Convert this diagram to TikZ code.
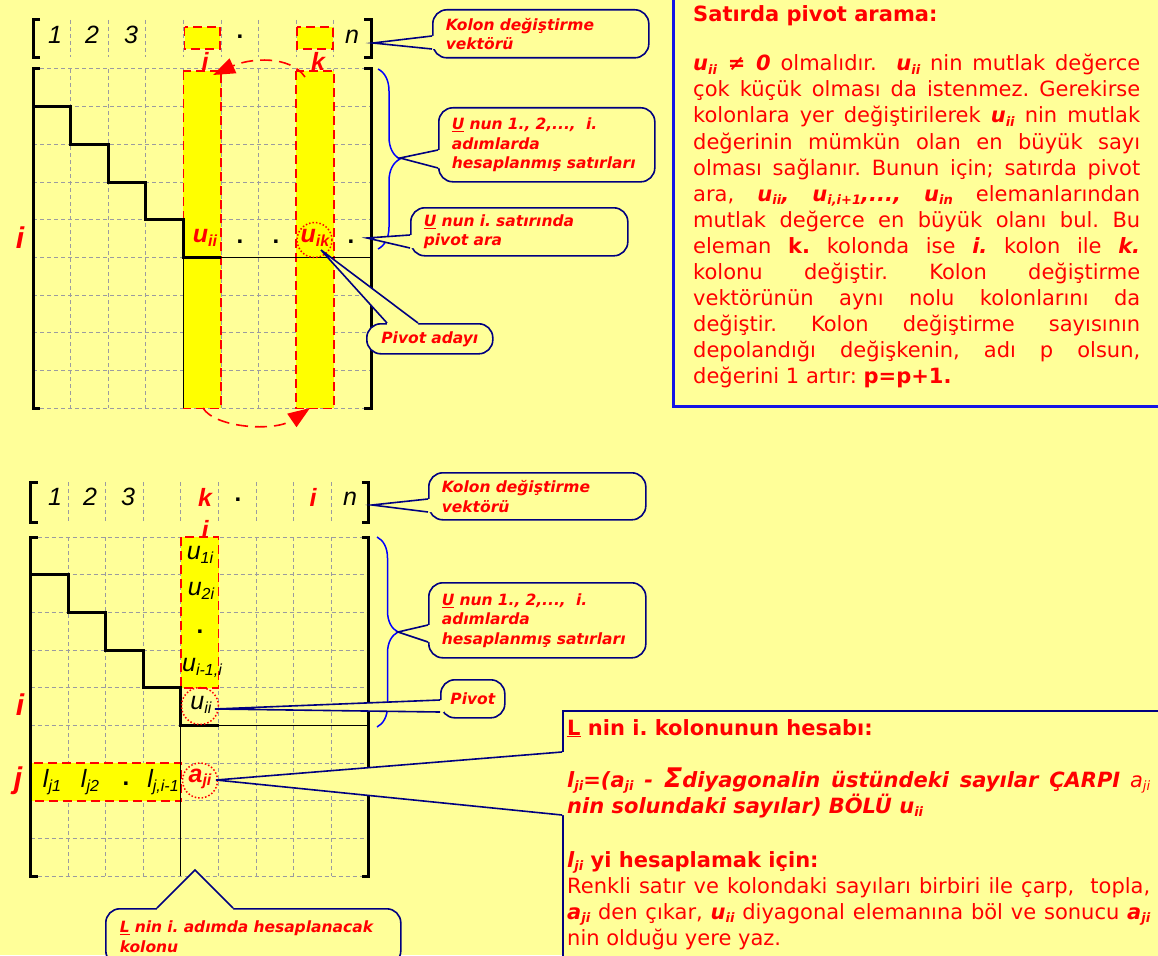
\documentclass[tikz,border=0pt]{standalone}
\usepackage{fontspec}
\setmainfont{DejaVu Sans}
\newfontfamily\lab{Liberation Sans}
\usetikzlibrary{calc,decorations.pathreplacing,arrows.meta}
\definecolor{bgc}{RGB}{255,255,153}
\definecolor{hl}{RGB}{255,255,0}
\definecolor{rd}{RGB}{255,0,0}
\definecolor{nv}{RGB}{0,0,128}
\definecolor{gr}{RGB}{155,155,160}
\definecolor{bl}{RGB}{0,0,255}
\definecolor{tbl}{RGB}{20,20,230}
\frenchspacing
\newcommand\bi[1]{\textbf{\textit{#1}}}
\newcommand\ts[1]{\raisebox{-0.15em}{\fontsize{13}{13}\selectfont #1}}
\newcommand\lsb[1]{\raisebox{-0.14em}{\fontsize{16}{16}\selectfont #1}}
\newcommand\wedgeptr[4]{%
  \fill[bgc] ($(#1)+(#4)$) -- (#1) -- (#2) -- (#3) -- ($(#3)+(#4)$) -- cycle;
  \draw[ptr] (#1) -- (#2) -- (#3);}
\tikzset{
  gridl/.style={gr, dash pattern=on 4pt off 3pt, line width=1pt},
  reddash/.style={rd, dash pattern=on 9pt off 5pt, line width=1.6pt},
  stair/.style={black, line width=3pt, line join=miter},
  brk/.style={black, line width=3pt, line join=miter},
  callout/.style={draw=nv, line width=1.6pt, fill=bgc, rounded corners=14pt, text=rd,
    font=\fontsize{15.5}{19.5}\selectfont\bfseries\itshape, align=left, anchor=north west,
    inner xsep=13pt, inner ysep=0pt},
  ptr/.style={nv, line width=1.6pt, line join=miter},
  nlab/.style={inner sep=0pt, font=\lab\itshape\fontsize{25}{25}\selectfont},
  rlab/.style={inner sep=0pt, text=rd, font=\lab\bfseries\itshape\fontsize{25}{25}\selectfont},
  rbig/.style={inner sep=0pt, text=rd, font=\lab\bfseries\itshape\fontsize{30}{30}\selectfont},
  dotlab/.style={inner sep=0pt, anchor=base, font=\lab\bfseries\fontsize{24}{24}\selectfont},
  dotc/.style={circle, draw=rd, dotted, line width=1.5pt, minimum size=35pt, inner sep=0pt},
  arc/.style={rd, line width=1.6pt, dash pattern=on 12pt off 7pt, -{Triangle[length=22pt,width=16pt]}},
  brace/.style={bl, line width=1.5pt, decorate},
  ptxt/.style={anchor=base west, inner sep=0pt, text=rd, font=\fontsize{21}{26}\selectfont},
}
\begin{document}
\begin{tikzpicture}[x=1pt,y=-1pt]
\useasboundingbox (0,0) rectangle (1158,955);
\fill[bgc] (0,0) rectangle (1158,955);

%%%%%%%%%%%%%%%% TOP SECTION
\foreach \i in {1,...,8}{
  \draw[gridl] ({33+37.6*\i},20) -- ({33+37.6*\i},57);
  \draw[gridl] ({33+37.6*\i},69) -- ({33+37.6*\i},408.3);}
\foreach \j in {0,...,9}{\draw[gridl] (33,{69+37.7*\j}) -- (371.4,{69+37.7*\j});}

\fill[hl] (184.5,27) rectangle (220,49);
\fill[hl] (297,27) rectangle (332.8,49);
\fill[hl] (183.4,71) rectangle (221,408.3);
\fill[hl] (296.2,71) rectangle (333.8,408.3);
\draw[reddash] (184.5,27) rectangle (220,49);
\draw[reddash] (297,27) rectangle (332.8,49);
\draw[reddash] (183.4,71) rectangle (221,408.3);
\draw[reddash] (296.2,71) rectangle (333.8,408.3);

\draw[line width=1pt] (221,257.5) -- (371.4,257.5);
\draw[line width=1pt] (183.4,257.5) -- (183.4,408.3);
\draw[stair] (33,106.7) -| (70.6,144.4) -| (108.2,182.1) -| (145.8,219.8) -| (183.4,257.5) -- (221,257.5);

\draw[brk] (40,20) -- (33,20) -- (33,58) -- (40,58);
\draw[brk] (364.4,20) -- (371.4,20) -- (371.4,58) -- (364.4,58);
\draw[brk] (40,69) -- (33,69) -- (33,408.3) -- (40,408.3);
\draw[brk] (364.4,69) -- (371.4,69) -- (371.4,408.3) -- (364.4,408.3);

\node[nlab] (t1n) at (55,35) {1};
\node[nlab] (t2n) at (92,35) {2};
\node[nlab] (t3n) at (131,35) {3};
\node[dotlab] (tdn) at (240,39) {.};
\node[nlab] (tnn) at (352,37) {n};
\node[rlab] (tin) at (205,61) {i};
\node[rlab] (tkn) at (318,61) {k};
\node[rbig] (tri) at (20,238) {i};
\node[rlab] (tuii) at (205,238) {u\lsb{ii}};
\node[dotlab] (td1) at (240,243) {.};
\node[dotlab] (td2) at (276,243) {.};
\node[dotlab] (td3) at (351,243) {.};
\node[dotc] (tcik) at (314.5,240) {};
\node[rlab] (tuik) at (315,238) {u\lsb{ik}};

\draw[arc] (305,77) .. controls (290,55) and (250,58) .. (213,75);
\draw[arc] (203,408) .. controls (215,428) and (275,432) .. (310,408);

\draw[brace, decoration={brace, amplitude=22pt}] (378,69) -- (378,249);

\node[callout, minimum width=216pt, minimum height=48pt, text width=190pt] (c1) at (432,9) {Kolon değiştirme\\vektörü};
\coordinate (t1) at (373,43);
\coordinate (c1a) at ($(c1.north west)+(0,27)$);
\coordinate (c1b) at ($(c1.north west)+(0,40)$);
\wedgeptr{c1a}{t1}{c1b}{4,0}

\node[callout, minimum width=216pt, minimum height=74pt, text width=190pt] (c2) at (438,107) {\underline{U} nun 1., 2,...,\ \ i.\\adımlarda\\hesaplanmış satırları};
\coordinate (t2) at (400,158);
\coordinate (c2a) at ($(c2.north west)+(0,43)$);
\coordinate (c2b) at ($(c2.north west)+(0,61)$);
\wedgeptr{c2a}{t2}{c2b}{4,0}

\node[callout, minimum width=217pt, minimum height=48pt, text width=191pt] (c3) at (410,207) {\underline{U} nun i. satırında\\pivot ara};
\coordinate (t3) at (367,238);
\coordinate (c3a) at ($(c3.north west)+(0,28)$);
\coordinate (c3b) at ($(c3.north west)+(0,41)$);
\wedgeptr{c3a}{t3}{c3b}{4,0}

\node[callout, align=center, inner xsep=0pt, minimum width=126pt, minimum height=30pt, text width=126pt] (c4) at (366,323) {Pivot adayı};
\coordinate (t4) at (321,250);
\coordinate (c4a) at ($(c4.north west)+(21,0)$);
\coordinate (c4b) at ($(c4.north west)+(52,0)$);
\wedgeptr{c4a}{t4}{c4b}{0,4}

%% right text box
\node[draw=tbl, line width=2.5pt, fill=bgc, minimum width=500pt, minimum height=415pt, anchor=north west, inner sep=0pt] (tb) at (672,-10) {};
\node[ptxt, font=\fontsize{21}{26}\selectfont\bfseries] (p0) at (693,22) {Satırda pivot arama:};
\node[ptxt] (p1) at (693,71) {\makebox[447pt][s]{\bi{u\ts{ii} ≠ 0} olmalıdır.\ \ \bi{u\ts{ii}} nin mutlak değerce}};
\node[ptxt] (p2) at (693,97) {\makebox[447pt][s]{çok küçük olması da istenmez. Gerekirse}};
\node[ptxt] (p3) at (693,123) {\makebox[447pt][s]{kolonlara yer değiştirilerek \bi{u\ts{ii}} nin mutlak}};
\node[ptxt] (p4) at (693,149) {\makebox[447pt][s]{değerinin mümkün olan en büyük sayı}};
\node[ptxt] (p5) at (693,175) {\makebox[447pt][s]{olması sağlanır. Bunun için; satırda pivot}};
\node[ptxt] (p6) at (693,201) {\makebox[447pt][s]{ara, \bi{u\ts{ii},} \bi{u\ts{i,i+1},...,} \bi{u\ts{in}} elemanlarından}};
\node[ptxt] (p7) at (693,227) {\makebox[447pt][s]{mutlak değerce en büyük olanı bul. Bu}};
\node[ptxt] (p8) at (693,253) {\makebox[447pt][s]{eleman \textbf{k.} kolonda ise \bi{i.} kolon ile \bi{k.}}};
\node[ptxt] (p9) at (693,279) {\makebox[447pt][s]{kolonu değiştir. Kolon değiştirme}};
\node[ptxt] (p10) at (693,305) {\makebox[447pt][s]{vektörünün aynı nolu kolonlarını da}};
\node[ptxt] (p11) at (693,331) {\makebox[447pt][s]{değiştir. Kolon değiştirme sayısının}};
\node[ptxt] (p12) at (693,357) {\makebox[447pt][s]{depolandığı değişkenin, adı p olsun,}};
\node[ptxt] (p13) at (693,383) {değerini 1 artır: \textbf{p=p+1.}};

%%%%%%%%%%%%%%%% BOTTOM SECTION
\foreach \i in {1,...,8}{
  \draw[gridl] ({30.5+37.6*\i},482) -- ({30.5+37.6*\i},522);
  \draw[gridl] ({30.5+37.6*\i},537) -- ({30.5+37.6*\i},876.3);}
\foreach \j in {0,...,9}{\draw[gridl] (30.5,{537+37.7*\j}) -- (368.9,{537+37.7*\j});}

\fill[hl] (180.9,537) rectangle (218.5,687.8);
\fill[hl] (30.5,763.2) rectangle (180.9,800.9);
\draw[reddash] (180.9,537) rectangle (218.5,687.8);
\draw[reddash] (30.5,763.2) rectangle (180.9,800.9);

\draw[line width=1pt] (218.5,725.5) -- (368.9,725.5);
\draw[line width=1pt] (180.9,725.5) -- (180.9,876.3);
\draw[stair] (30.5,574.7) -| (68.1,612.4) -| (105.7,650.1) -| (143.3,687.8) -| (180.9,725.5) -- (218.5,725.5);

\draw[brk] (37.5,482) -- (30.5,482) -- (30.5,522) -- (37.5,522);
\draw[brk] (361.9,482) -- (368.9,482) -- (368.9,522) -- (361.9,522);
\draw[brk] (37.5,537) -- (30.5,537) -- (30.5,876.3) -- (37.5,876.3);
\draw[brk] (361.9,537) -- (368.9,537) -- (368.9,876.3) -- (361.9,876.3);

\node[nlab] (b1n) at (55,497) {1};
\node[nlab] (b2n) at (90,497) {2};
\node[nlab] (b3n) at (128,497) {3};
\node[rlab] (bkn) at (205,497) {k};
\node[dotlab] (bdn) at (238,501) {.};
\node[rlab] (bin) at (313,497) {i};
\node[nlab] (bnn) at (350,499) {n};
\node[rlab] (bi2) at (205,529) {i};
\node[nlab] (bu1) at (200,555) {u\lsb{1i}};
\node[nlab] (bu2) at (201,591) {u\lsb{2i}};
\node[dotlab] (bud) at (200,633) {.};
\node[nlab] (bu3) at (202,668) {u\lsb{i-1,i}};
\node[dotc, minimum size=37pt] (bcii) at (200,706) {};
\node[nlab] (buii) at (201,705) {u\lsb{ii}};
\node[nlab] (bl1) at (52,782) {l\lsb{j1}};
\node[nlab] (bl2) at (90,782) {l\lsb{j2}};
\node[dotlab] (bld) at (126,785) {.};
\node[nlab] (bl3) at (163,782) {l\lsb{j,i-1}};
\node[dotc] (bcaji) at (200,780.5) {};
\node[rlab] (baji) at (200,779) {a\lsb{ji}};
\node[rbig] (bri) at (20,705) {i};
\node[rbig] (brj) at (18,781) {j};

\draw[brace, decoration={brace, amplitude=21pt}] (377,537) -- (377,727);

\node[callout, minimum width=217pt, minimum height=47pt, text width=191pt] (d1) at (428,472) {Kolon değiştirme\\vektörü};
\coordinate (s1) at (372,505);
\coordinate (d1a) at ($(d1.north west)+(0,27)$);
\coordinate (d1b) at ($(d1.north west)+(0,40)$);
\wedgeptr{d1a}{s1}{d1b}{4,0}

\node[callout, minimum width=217pt, minimum height=75pt, text width=191pt] (d2) at (428,582) {\underline{U} nun 1., 2,...,\ \ i.\\adımlarda\\hesaplanmış satırları};
\coordinate (s2) at (398,632);
\coordinate (d2a) at ($(d2.north west)+(0,43)$);
\coordinate (d2b) at ($(d2.north west)+(0,60)$);
\wedgeptr{d2a}{s2}{d2b}{4,0}

\node[callout, align=center, inner xsep=0pt, minimum width=64pt, minimum height=38pt, text width=64pt] (d3) at (440,679) {Pivot};
\coordinate (s3) at (215,709);
\coordinate (d3a) at ($(d3.north west)+(0,21)$);
\coordinate (d3b) at ($(d3.north west)+(0,33)$);
\wedgeptr{d3a}{s3}{d3b}{4,0}

\node[callout, inner xsep=14pt, minimum width=295pt, minimum height=56pt, text width=267pt] (d4) at (105,908) {\mbox{\underline{L} nin i. adımda hesaplanacak}\\kolonu};
\coordinate (s4) at (195,870);
\coordinate (d4a) at ($(d4.north west)+(52,0)$);
\coordinate (d4b) at ($(d4.north west)+(128,0)$);
\wedgeptr{d4a}{s4}{d4b}{0,4}

\node[draw=nv, line width=2pt, fill=bgc, minimum width=620pt, minimum height=270pt, anchor=north west, inner sep=0pt] (d5) at (562,710) {};
\coordinate (s5) at (216,780);
\coordinate (d5a) at ($(d5.north west)+(0,42)$);
\coordinate (d5b) at ($(d5.north west)+(0,105)$);
\wedgeptr{d5a}{s5}{d5b}{4,0}

\node[ptxt, font=\fontsize{21}{26}\selectfont\bfseries] (q1) at (567,735) {\underline{L} nin i. kolonunun hesabı:};
\node[ptxt] (q2) at (567,787) {\makebox[583pt][s]{\bi{l\ts{ji}=(a\ts{ji} - {\fontsize{27}{27}\selectfont Σ}diyagonalin üstündeki sayılar ÇARPI} \textit{a\ts{ji}}}};
\node[ptxt] (q3) at (567,813) {\bi{nin solundaki sayılar) BÖLÜ u\ts{ii}}};
\node[ptxt] (q4) at (567,867) {\textbf{\textit{l\ts{ji}} yi hesaplamak için:}};
\node[ptxt] (q5) at (567,893) {\makebox[583pt][s]{Renkli satır ve kolondaki sayıları birbiri ile çarp,\ \ topla,}};
\node[ptxt] (q6) at (567,919) {\makebox[583pt][s]{\bi{a\ts{ji}} den çıkar, \bi{u\ts{ii}} diyagonal elemanına böl ve sonucu \bi{a\ts{ji}}}};
\node[ptxt] (q7) at (567,945) {nin olduğu yere yaz.};
\end{tikzpicture}
\end{document}
